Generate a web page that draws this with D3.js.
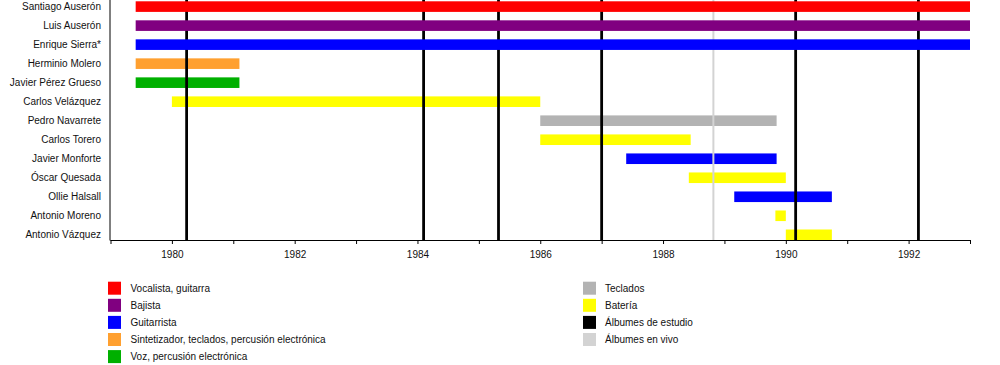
<!DOCTYPE html>
<html><head><meta charset="utf-8">
<script src="https://cdn.jsdelivr.net/npm/d3@7"></script>
<style>body{margin:0;background:#fff}svg{display:block;font-family:"Liberation Sans",Arial,sans-serif}</style>
</head><body><svg id="c" width="1000" height="365"></svg>
<script>
const members = ["Santiago Auserón","Luis Auserón","Enrique Sierra*","Herminio Molero","Javier Pérez Grueso","Carlos Velázquez","Pedro Navarrete","Carlos Torero","Javier Monforte","Óscar Quesada","Ollie Halsall","Antonio Moreno","Antonio Vázquez"];
const starts = [1979.41,1979.41,1979.41,1979.41,1979.41,1980.0,1986.0,1986.0,1987.4,1988.42,1989.16,1989.83,1990.0];
const ends   = [1993.0,1993.0,1993.0,1981.1,1981.1,1986.0,1989.85,1988.45,1989.85,1990.0,1990.75,1990.0,1990.75];
const roles  = ["voc","bass","gtr","synth","voz","drums","keys","drums","gtr","drums","gtr","drums","drums"];
const roleKeys = ["voc","bass","gtr","synth","voz","keys","drums","studio","live"];
const roleNames = ["Vocalista, guitarra","Bajista","Guitarrista","Sintetizador, teclados, percusión electrónica","Voz, percusión electrónica","Teclados","Batería","Álbumes de estudio","Álbumes en vivo"];
const roleColors = ["#ff0000","#800080","#0000ff","#ffa030","#00b000","#b3b3b3","#ffff00","#000000","#d3d3d3"];
const studioAlbums = [1980.24,1984.1,1985.32,1987.0,1990.16,1992.16];
const liveAlbums = [1988.82];
const tickYears = [1979,1980,1981,1982,1983,1984,1985,1986,1987,1988,1989,1990,1991,1992,1993];

const svg = d3.select("#c");
const color = d3.scaleOrdinal().domain(roleKeys).range(roleColors);
const x = d3.scaleLinear().domain([1979,1993]).range([110.5,970]);
const y = d3.scalePoint().domain(members).range([6.6,234.8]);
const barH = 10.6, axisY = 240;

const data = members.map((m,i)=>({name:m,start:starts[i],end:ends[i],role:roles[i],i}));

const gBack = svg.append("g");
const gLines = svg.append("g");
const gFront = svg.append("g");

gBack.selectAll("rect").data(data.filter(d=>d.i>=3)).join("rect")
  .attr("x",d=>x(d.start)).attr("width",d=>x(d.end)-x(d.start))
  .attr("y",d=>y(d.name)-barH/2).attr("height",barH)
  .attr("fill",d=>color(d.role));

gLines.selectAll("line.live").data(liveAlbums).join("line").attr("class","live")
  .attr("x1",d=>x(d)).attr("x2",d=>x(d)).attr("y1",0).attr("y2",axisY)
  .attr("stroke",color("live")).attr("stroke-width",2);
gLines.selectAll("line.studio").data(studioAlbums).join("line").attr("class","studio")
  .attr("x1",d=>x(d)).attr("x2",d=>x(d)).attr("y1",0).attr("y2",axisY)
  .attr("stroke",color("studio")).attr("stroke-width",2.8);

gFront.selectAll("rect").data(data.filter(d=>d.i<3)).join("rect")
  .attr("x",d=>x(d.start)).attr("width",d=>x(d.end)-x(d.start))
  .attr("y",d=>y(d.name)-barH/2).attr("height",barH)
  .attr("fill",d=>color(d.role));

svg.append("g").selectAll("text").data(members).join("text")
  .attr("x",101).attr("y",d=>y(d)+3.6).attr("text-anchor","end")
  .attr("font-size",10).attr("fill","#111").text(d=>d);
svg.append("line").attr("x1",110).attr("x2",110).attr("y1",0).attr("y2",axisY+0.5)
  .attr("stroke","#000").attr("stroke-width",1);

const ax = d3.axisBottom(x).tickValues(tickYears).tickSize(4).tickPadding(7)
  .tickFormat(d=>d%2===0 ? d : "");
const gAx = svg.append("g").attr("transform",`translate(0,${axisY})`).call(ax);
gAx.select(".domain").attr("d",`M${x(1979)},0.5H${x(1993)}`).attr("stroke","#000");
gAx.selectAll(".tick line").attr("stroke","#000").attr("y1",0);
gAx.selectAll("text").attr("font-size",10).attr("fill","#111")
  .attr("font-family","Liberation Sans, Arial, sans-serif");

const leftCol = roleKeys.slice(0,5), rightCol = roleKeys.slice(5);
function legendCol(keys, sx, tx){
  const g = svg.append("g");
  const rows = g.selectAll("g").data(keys).join("g");
  rows.append("rect").attr("x",sx).attr("y",(d,i)=>281.7+i*17.1).attr("width",13).attr("height",13)
    .attr("fill",d=>color(d));
  rows.append("text").attr("x",tx).attr("y",(d,i)=>281.7+i*17.1+10.3)
    .attr("font-size",10).attr("fill","#111").text(d=>roleNames[roleKeys.indexOf(d)]);
}
legendCol(leftCol,108,130.5);
legendCol(rightCol,583,605);
</script></body></html>
